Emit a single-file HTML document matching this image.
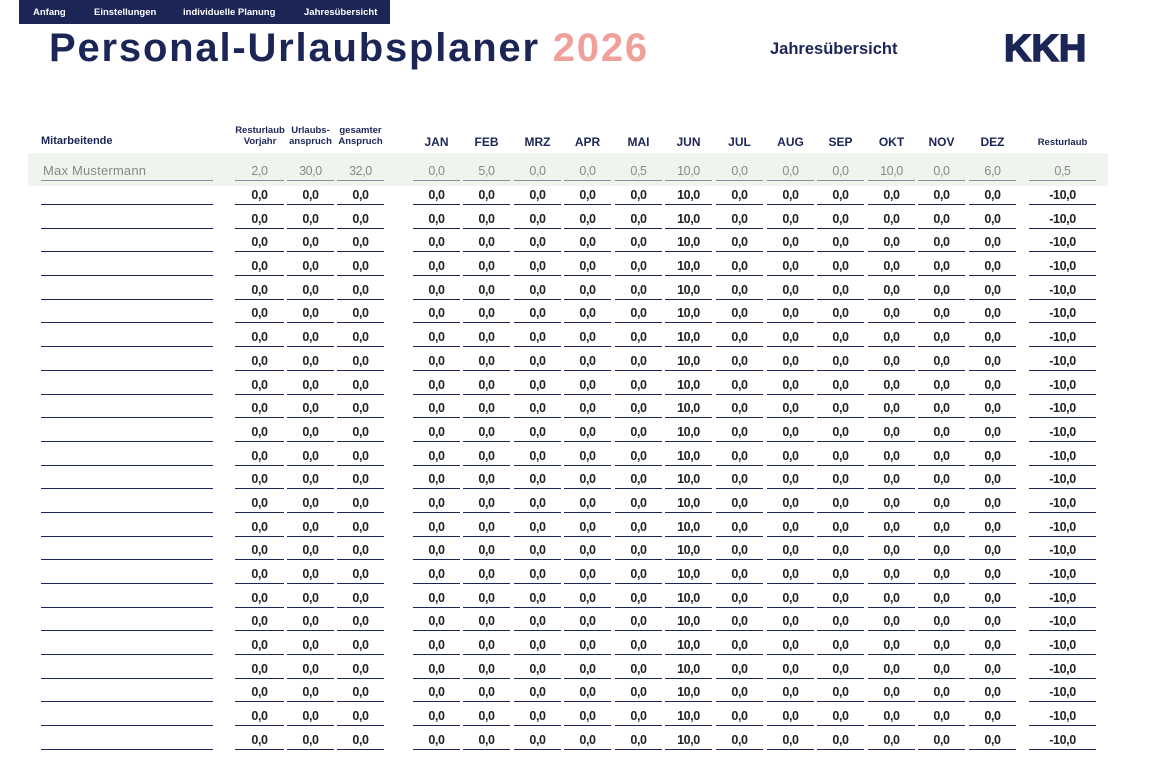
<!DOCTYPE html>
<html><head><meta charset="utf-8"><style>
body{margin:0;width:1161px;height:774px;background:#fff;position:relative;overflow:hidden;font-family:"Liberation Sans",sans-serif;color:#1b2556}
.nav{position:absolute;left:19px;top:0;width:371px;height:24px;background:#1b2556;color:#fff;font-size:9.5px;font-weight:bold}
.nav span{position:absolute;top:7px}
.title{position:absolute;left:49px;top:26px;font-size:40px;font-weight:bold;color:#1b2556;letter-spacing:1.8px}
.title em{font-style:normal;color:#f0a09a}
.jahr{position:absolute;left:770px;top:40px;font-size:16.5px;font-weight:bold}
.kkh{position:absolute;left:1004px;top:28px;font-size:38px;font-weight:900;letter-spacing:0px;-webkit-text-stroke:1.5px #1b2556}
.hd{position:absolute;font-size:12px;font-weight:bold;text-align:center}
.hs{position:absolute;font-size:9.5px;font-weight:bold;text-align:center;line-height:11px}
.band{position:absolute;left:28px;top:153px;width:1080px;height:33px;background:#eef5ec}
.r{position:absolute;left:0;width:1161px;height:20px}
.r span{position:absolute;top:0;height:19px;border-bottom:1.2px solid #1b2556;text-align:center;font-size:12.5px;font-weight:bold;line-height:20px;color:#222;letter-spacing:-0.4px;width:47px}
.r span:nth-child(1){left:41px;width:172px}
.r span:nth-child(2){left:235px;width:49px}
.r span:nth-child(3){left:287px}
.r span:nth-child(4){left:337px}
.r span:nth-child(5){left:413px}
.r span:nth-child(6){left:463px}
.r span:nth-child(7){left:514px}
.r span:nth-child(8){left:564px}
.r span:nth-child(9){left:615px}
.r span:nth-child(10){left:665px}
.r span:nth-child(11){left:716px}
.r span:nth-child(12){left:767px}
.r span:nth-child(13){left:817px}
.r span:nth-child(14){left:868px}
.r span:nth-child(15){left:918px}
.r span:nth-child(16){left:969px}
.r span:nth-child(17){left:1029px;width:67px}
.m span{color:#888;font-weight:normal;border-bottom-color:#8a8f9c}
.m span:nth-child(1){text-align:left;padding-left:2px;width:170px;font-size:13px;letter-spacing:0.2px}
</style></head><body>
<div class="nav"><span style="left:14px">Anfang</span><span style="left:75px">Einstellungen</span><span style="left:164px">individuelle Planung</span><span style="left:285px">Jahresübersicht</span></div>
<div class="title">Personal-Urlaubsplaner <em>2026</em></div>
<div class="jahr">Jahresübersicht</div>
<div class="kkh">KKH</div>
<div class="hd" style="left:41px;top:135px;text-align:left;font-size:11px">Mitarbeitende</div>
<div class="hs" style="left:230px;top:125px;width:60px">Resturlaub<br>Vorjahr</div>
<div class="hs" style="left:284px;top:125px;width:53px">Urlaubs-<br>anspruch</div>
<div class="hs" style="left:334px;top:125px;width:53px">gesamter<br>Anspruch</div>
<div class="hd" style="left:413px;top:135px;width:47px">JAN</div>
<div class="hd" style="left:463px;top:135px;width:47px">FEB</div>
<div class="hd" style="left:514px;top:135px;width:47px">MRZ</div>
<div class="hd" style="left:564px;top:135px;width:47px">APR</div>
<div class="hd" style="left:615px;top:135px;width:47px">MAI</div>
<div class="hd" style="left:665px;top:135px;width:47px">JUN</div>
<div class="hd" style="left:716px;top:135px;width:47px">JUL</div>
<div class="hd" style="left:767px;top:135px;width:47px">AUG</div>
<div class="hd" style="left:817px;top:135px;width:47px">SEP</div>
<div class="hd" style="left:868px;top:135px;width:47px">OKT</div>
<div class="hd" style="left:918px;top:135px;width:47px">NOV</div>
<div class="hd" style="left:969px;top:135px;width:47px">DEZ</div>
<div class="hs" style="left:1029px;top:137px;width:67px">Resturlaub</div>
<div class="band"></div>
<div class="r m" style="top:161px"><span>Max Mustermann</span><span>2,0</span><span>30,0</span><span>32,0</span><span>0,0</span><span>5,0</span><span>0,0</span><span>0,0</span><span>0,5</span><span>10,0</span><span>0,0</span><span>0,0</span><span>0,0</span><span>10,0</span><span>0,0</span><span>6,0</span><span>0,5</span></div>
<div class="r" style="top:185px"><span></span><span>0,0</span><span>0,0</span><span>0,0</span><span>0,0</span><span>0,0</span><span>0,0</span><span>0,0</span><span>0,0</span><span>10,0</span><span>0,0</span><span>0,0</span><span>0,0</span><span>0,0</span><span>0,0</span><span>0,0</span><span>-10,0</span></div>
<div class="r" style="top:209px"><span></span><span>0,0</span><span>0,0</span><span>0,0</span><span>0,0</span><span>0,0</span><span>0,0</span><span>0,0</span><span>0,0</span><span>10,0</span><span>0,0</span><span>0,0</span><span>0,0</span><span>0,0</span><span>0,0</span><span>0,0</span><span>-10,0</span></div>
<div class="r" style="top:232px"><span></span><span>0,0</span><span>0,0</span><span>0,0</span><span>0,0</span><span>0,0</span><span>0,0</span><span>0,0</span><span>0,0</span><span>10,0</span><span>0,0</span><span>0,0</span><span>0,0</span><span>0,0</span><span>0,0</span><span>0,0</span><span>-10,0</span></div>
<div class="r" style="top:256px"><span></span><span>0,0</span><span>0,0</span><span>0,0</span><span>0,0</span><span>0,0</span><span>0,0</span><span>0,0</span><span>0,0</span><span>10,0</span><span>0,0</span><span>0,0</span><span>0,0</span><span>0,0</span><span>0,0</span><span>0,0</span><span>-10,0</span></div>
<div class="r" style="top:280px"><span></span><span>0,0</span><span>0,0</span><span>0,0</span><span>0,0</span><span>0,0</span><span>0,0</span><span>0,0</span><span>0,0</span><span>10,0</span><span>0,0</span><span>0,0</span><span>0,0</span><span>0,0</span><span>0,0</span><span>0,0</span><span>-10,0</span></div>
<div class="r" style="top:303px"><span></span><span>0,0</span><span>0,0</span><span>0,0</span><span>0,0</span><span>0,0</span><span>0,0</span><span>0,0</span><span>0,0</span><span>10,0</span><span>0,0</span><span>0,0</span><span>0,0</span><span>0,0</span><span>0,0</span><span>0,0</span><span>-10,0</span></div>
<div class="r" style="top:327px"><span></span><span>0,0</span><span>0,0</span><span>0,0</span><span>0,0</span><span>0,0</span><span>0,0</span><span>0,0</span><span>0,0</span><span>10,0</span><span>0,0</span><span>0,0</span><span>0,0</span><span>0,0</span><span>0,0</span><span>0,0</span><span>-10,0</span></div>
<div class="r" style="top:351px"><span></span><span>0,0</span><span>0,0</span><span>0,0</span><span>0,0</span><span>0,0</span><span>0,0</span><span>0,0</span><span>0,0</span><span>10,0</span><span>0,0</span><span>0,0</span><span>0,0</span><span>0,0</span><span>0,0</span><span>0,0</span><span>-10,0</span></div>
<div class="r" style="top:375px"><span></span><span>0,0</span><span>0,0</span><span>0,0</span><span>0,0</span><span>0,0</span><span>0,0</span><span>0,0</span><span>0,0</span><span>10,0</span><span>0,0</span><span>0,0</span><span>0,0</span><span>0,0</span><span>0,0</span><span>0,0</span><span>-10,0</span></div>
<div class="r" style="top:398px"><span></span><span>0,0</span><span>0,0</span><span>0,0</span><span>0,0</span><span>0,0</span><span>0,0</span><span>0,0</span><span>0,0</span><span>10,0</span><span>0,0</span><span>0,0</span><span>0,0</span><span>0,0</span><span>0,0</span><span>0,0</span><span>-10,0</span></div>
<div class="r" style="top:422px"><span></span><span>0,0</span><span>0,0</span><span>0,0</span><span>0,0</span><span>0,0</span><span>0,0</span><span>0,0</span><span>0,0</span><span>10,0</span><span>0,0</span><span>0,0</span><span>0,0</span><span>0,0</span><span>0,0</span><span>0,0</span><span>-10,0</span></div>
<div class="r" style="top:446px"><span></span><span>0,0</span><span>0,0</span><span>0,0</span><span>0,0</span><span>0,0</span><span>0,0</span><span>0,0</span><span>0,0</span><span>10,0</span><span>0,0</span><span>0,0</span><span>0,0</span><span>0,0</span><span>0,0</span><span>0,0</span><span>-10,0</span></div>
<div class="r" style="top:469px"><span></span><span>0,0</span><span>0,0</span><span>0,0</span><span>0,0</span><span>0,0</span><span>0,0</span><span>0,0</span><span>0,0</span><span>10,0</span><span>0,0</span><span>0,0</span><span>0,0</span><span>0,0</span><span>0,0</span><span>0,0</span><span>-10,0</span></div>
<div class="r" style="top:493px"><span></span><span>0,0</span><span>0,0</span><span>0,0</span><span>0,0</span><span>0,0</span><span>0,0</span><span>0,0</span><span>0,0</span><span>10,0</span><span>0,0</span><span>0,0</span><span>0,0</span><span>0,0</span><span>0,0</span><span>0,0</span><span>-10,0</span></div>
<div class="r" style="top:517px"><span></span><span>0,0</span><span>0,0</span><span>0,0</span><span>0,0</span><span>0,0</span><span>0,0</span><span>0,0</span><span>0,0</span><span>10,0</span><span>0,0</span><span>0,0</span><span>0,0</span><span>0,0</span><span>0,0</span><span>0,0</span><span>-10,0</span></div>
<div class="r" style="top:540px"><span></span><span>0,0</span><span>0,0</span><span>0,0</span><span>0,0</span><span>0,0</span><span>0,0</span><span>0,0</span><span>0,0</span><span>10,0</span><span>0,0</span><span>0,0</span><span>0,0</span><span>0,0</span><span>0,0</span><span>0,0</span><span>-10,0</span></div>
<div class="r" style="top:564px"><span></span><span>0,0</span><span>0,0</span><span>0,0</span><span>0,0</span><span>0,0</span><span>0,0</span><span>0,0</span><span>0,0</span><span>10,0</span><span>0,0</span><span>0,0</span><span>0,0</span><span>0,0</span><span>0,0</span><span>0,0</span><span>-10,0</span></div>
<div class="r" style="top:588px"><span></span><span>0,0</span><span>0,0</span><span>0,0</span><span>0,0</span><span>0,0</span><span>0,0</span><span>0,0</span><span>0,0</span><span>10,0</span><span>0,0</span><span>0,0</span><span>0,0</span><span>0,0</span><span>0,0</span><span>0,0</span><span>-10,0</span></div>
<div class="r" style="top:611px"><span></span><span>0,0</span><span>0,0</span><span>0,0</span><span>0,0</span><span>0,0</span><span>0,0</span><span>0,0</span><span>0,0</span><span>10,0</span><span>0,0</span><span>0,0</span><span>0,0</span><span>0,0</span><span>0,0</span><span>0,0</span><span>-10,0</span></div>
<div class="r" style="top:635px"><span></span><span>0,0</span><span>0,0</span><span>0,0</span><span>0,0</span><span>0,0</span><span>0,0</span><span>0,0</span><span>0,0</span><span>10,0</span><span>0,0</span><span>0,0</span><span>0,0</span><span>0,0</span><span>0,0</span><span>0,0</span><span>-10,0</span></div>
<div class="r" style="top:659px"><span></span><span>0,0</span><span>0,0</span><span>0,0</span><span>0,0</span><span>0,0</span><span>0,0</span><span>0,0</span><span>0,0</span><span>10,0</span><span>0,0</span><span>0,0</span><span>0,0</span><span>0,0</span><span>0,0</span><span>0,0</span><span>-10,0</span></div>
<div class="r" style="top:682px"><span></span><span>0,0</span><span>0,0</span><span>0,0</span><span>0,0</span><span>0,0</span><span>0,0</span><span>0,0</span><span>0,0</span><span>10,0</span><span>0,0</span><span>0,0</span><span>0,0</span><span>0,0</span><span>0,0</span><span>0,0</span><span>-10,0</span></div>
<div class="r" style="top:706px"><span></span><span>0,0</span><span>0,0</span><span>0,0</span><span>0,0</span><span>0,0</span><span>0,0</span><span>0,0</span><span>0,0</span><span>10,0</span><span>0,0</span><span>0,0</span><span>0,0</span><span>0,0</span><span>0,0</span><span>0,0</span><span>-10,0</span></div>
<div class="r" style="top:730px"><span></span><span>0,0</span><span>0,0</span><span>0,0</span><span>0,0</span><span>0,0</span><span>0,0</span><span>0,0</span><span>0,0</span><span>10,0</span><span>0,0</span><span>0,0</span><span>0,0</span><span>0,0</span><span>0,0</span><span>0,0</span><span>-10,0</span></div>
</body></html>
